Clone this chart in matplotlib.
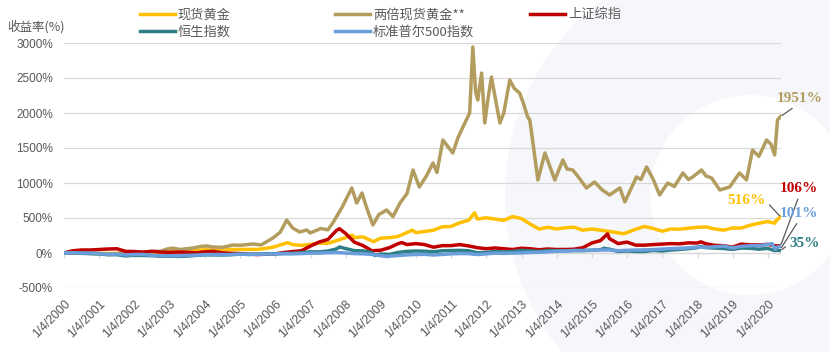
import matplotlib
matplotlib.use("Agg")
import matplotlib.pyplot as plt
from matplotlib.patches import Wedge

plt.rcParams['font.family'] = ['Noto Sans CJK SC', 'DejaVu Sans']

# --- data (decimal years, return in %) ---
gold_t = [2000.0, 2000.25, 2000.5, 2000.75, 2001.0, 2001.25, 2001.5, 2001.75,
          2002.0, 2002.25, 2002.5, 2002.75, 2003.0, 2003.25, 2003.5, 2003.75,
          2004.0, 2004.25, 2004.5, 2004.75, 2005.0, 2005.25, 2005.5, 2005.75,
          2006.0, 2006.35, 2006.5, 2006.75, 2007.0, 2007.25, 2007.5, 2007.75,
          2008.0, 2008.2, 2008.25, 2008.5, 2008.8, 2009.0, 2009.25, 2009.5,
          2009.9, 2010.0, 2010.25, 2010.5, 2010.75, 2011.0, 2011.25, 2011.5,
          2011.67, 2011.75, 2012.0, 2012.25, 2012.5, 2012.75, 2013.0, 2013.25,
          2013.5, 2013.75, 2014.0, 2014.25, 2014.5, 2014.75, 2015.0, 2015.25,
          2015.5, 2015.9, 2016.0, 2016.25, 2016.5, 2016.75, 2017.0, 2017.25,
          2017.5, 2017.75, 2018.0, 2018.25, 2018.5, 2018.75, 2019.0, 2019.25,
          2019.5, 2019.75, 2020.0, 2020.2, 2020.25, 2020.37]
gold_v = [0, -1, 3, -4, -5, -8, -4, 1,
          -1, 6, 12, 13, 24, 17, 24, 35,
          47, 42, 40, 49, 51, 52, 51, 67,
          91, 148, 120, 109, 123, 141, 138, 177,
          219, 255, 219, 230, 162, 212, 219, 237,
          326, 290, 308, 325, 375, 379, 432, 467,
          574, 485, 503, 485, 467, 520, 492, 414,
          343, 368, 343, 361, 368, 326, 343, 326,
          308, 276, 290, 340, 379, 350, 311, 343,
          340, 354, 368, 372, 343, 326, 357, 357,
          396, 425, 450, 425, 467, 516]

gold2x_t = [2000.0, 2000.25, 2000.5, 2000.75, 2001.0, 2001.25, 2001.5, 2001.75,
            2002.0, 2002.25, 2002.5, 2002.75, 2002.93, 2003.1, 2003.3, 2003.67,
            2003.9, 2004.05, 2004.23, 2004.5, 2004.8, 2005.0, 2005.37, 2005.6,
            2005.94, 2006.15, 2006.33, 2006.5, 2006.7, 2006.9, 2007.0, 2007.3,
            2007.5, 2007.64, 2007.9, 2008.18, 2008.32, 2008.47, 2008.6, 2008.78,
            2008.95, 2009.17, 2009.35, 2009.55, 2009.75, 2009.92, 2010.1, 2010.3,
            2010.49, 2010.6, 2010.77, 2011.05, 2011.2, 2011.34, 2011.53, 2011.62,
            2011.7, 2011.76, 2011.87, 2011.96, 2012.05, 2012.15, 2012.3, 2012.39,
            2012.5, 2012.67, 2012.8, 2012.95, 2013.05, 2013.18, 2013.24, 2013.33,
            2013.47, 2013.67, 2013.8, 2013.95, 2014.18, 2014.3, 2014.46, 2014.6,
            2014.85, 2015.08, 2015.3, 2015.51, 2015.8, 2015.94, 2016.1, 2016.27,
            2016.4, 2016.56, 2016.75, 2016.93, 2017.16, 2017.35, 2017.59, 2017.75,
            2017.87, 2018.12, 2018.25, 2018.41, 2018.64, 2018.92, 2019.2, 2019.4,
            2019.57, 2019.75, 2019.97, 2020.1, 2020.2, 2020.28, 2020.37]
gold2x_v = [0, -5, 5, -8, -12, -18, -10, 0,
            -3, 10, 22, 25, 57, 70, 50, 71,
            95, 100, 86, 80, 114, 110, 129, 115,
            214, 300, 471, 357, 300, 329, 286, 350,
            330, 429, 650, 929, 714, 857, 650, 400,
            550, 614, 520, 714, 850, 1186, 943, 1100,
            1286, 1150, 1614, 1429, 1650, 1800, 2000, 2943,
            2300, 2186, 2571, 1857, 2200, 2514, 2100, 1857,
            2000, 2471, 2350, 2286, 2150, 1943, 1900, 1571,
            1043, 1429, 1250, 1043, 1329, 1200, 1186, 1100,
            929, 1014, 900, 829, 929, 729, 900, 1086,
            1050, 1229, 1050, 829, 1000, 950, 1143, 1050,
            1086, 1186, 1100, 1071, 900, 943, 1143, 1043,
            1471, 1380, 1614, 1550, 1400, 1900, 1951]

sh_t = [2000.0, 2000.25, 2000.5, 2000.75, 2001.0, 2001.25, 2001.5, 2001.75,
        2002.0, 2002.25, 2002.5, 2002.75, 2003.0, 2003.25, 2003.5, 2003.75,
        2004.0, 2004.25, 2004.5, 2004.75, 2005.0, 2005.25, 2005.5, 2005.75,
        2006.0, 2006.25, 2006.5, 2006.75, 2007.0, 2007.25, 2007.5, 2007.75,
        2007.83, 2008.0, 2008.25, 2008.5, 2008.75, 2009.0, 2009.25, 2009.5,
        2009.6, 2009.75, 2010.0, 2010.25, 2010.5, 2010.75, 2011.0, 2011.25,
        2011.5, 2011.75, 2012.0, 2012.25, 2012.5, 2012.75, 2013.0, 2013.25,
        2013.5, 2013.75, 2014.0, 2014.25, 2014.5, 2014.75, 2015.0, 2015.25,
        2015.45, 2015.5, 2015.75, 2016.0, 2016.25, 2016.5, 2016.75, 2017.0,
        2017.25, 2017.5, 2017.75, 2018.0, 2018.1, 2018.25, 2018.5, 2018.75,
        2019.0, 2019.25, 2019.5, 2019.75, 2020.0, 2020.25, 2020.37]
sh_v = [2, 32, 43, 43, 50, 57, 61, 24,
        21, 13, 24, 13, 10, 13, 10, 2,
        17, 24, 2, -5, -8, -16, -23, -16,
        -12, 6, 21, 32, 98, 156, 193, 325,
        347, 281, 156, 105, 32, 39, 76, 134,
        149, 120, 134, 120, 83, 105, 105, 120,
        101, 76, 61, 72, 61, 50, 68, 61,
        46, 57, 50, 50, 54, 76, 142, 178,
        273, 207, 134, 156, 112, 112, 120, 127,
        134, 131, 145, 142, 160, 131, 109, 105,
        83, 127, 116, 116, 123, 101, 106]

hsi_t = [2000.0, 2000.25, 2000.5, 2000.75, 2001.0, 2001.25, 2001.5, 2001.75,
         2002.0, 2002.25, 2002.5, 2002.75, 2003.0, 2003.25, 2003.5, 2003.75,
         2004.0, 2004.25, 2004.5, 2004.75, 2005.0, 2005.25, 2005.5, 2005.75,
         2006.0, 2006.25, 2006.5, 2006.75, 2007.0, 2007.25, 2007.5, 2007.75,
         2007.83, 2008.0, 2008.25, 2008.5, 2008.75, 2008.83, 2009.0, 2009.25,
         2009.5, 2009.75, 2010.0, 2010.25, 2010.5, 2010.75, 2011.0, 2011.25,
         2011.5, 2011.75, 2012.0, 2012.25, 2012.5, 2012.75, 2013.0, 2013.25,
         2013.5, 2013.75, 2014.0, 2014.25, 2014.5, 2014.75, 2015.0, 2015.25,
         2015.35, 2015.5, 2015.75, 2016.0, 2016.25, 2016.5, 2016.75, 2017.0,
         2017.25, 2017.5, 2017.75, 2018.0, 2018.08, 2018.25, 2018.5, 2018.75,
         2019.0, 2019.25, 2019.5, 2019.75, 2020.0, 2020.2, 2020.25, 2020.37]
hsi_v = [0, 2, -5, -8, -11, -25, -24, -41,
         -33, -35, -38, -47, -45, -49, -44, -34,
         -26, -27, -28, -23, -16, -21, -16, -9,
         -12, -7, -4, 3, 17, 16, 28, 59,
         86, 64, 34, 30, 6, -35, -15, -20,
         8, 23, 29, 25, 18, 32, 35, 38,
         32, 4, 8, 21, 14, 22, 37, 31,
         22, 35, 34, 31, 36, 35, 39, 47,
         67, 54, 22, 29, 22, 22, 37, 29,
         42, 51, 62, 76, 94, 77, 70, 64,
         52, 71, 68, 54, 66, 34, 39, 35]

spx_t = [2000.0, 2000.25, 2000.5, 2000.75, 2001.0, 2001.25, 2001.5, 2001.75,
         2002.0, 2002.25, 2002.5, 2002.75, 2003.0, 2003.25, 2003.5, 2003.75,
         2004.0, 2004.25, 2004.5, 2004.75, 2005.0, 2005.25, 2005.5, 2005.75,
         2006.0, 2006.25, 2006.5, 2006.75, 2007.0, 2007.25, 2007.5, 2007.75,
         2008.0, 2008.25, 2008.5, 2008.75, 2009.0, 2009.2, 2009.25, 2009.5,
         2009.75, 2010.0, 2010.25, 2010.5, 2010.75, 2011.0, 2011.25, 2011.5,
         2011.75, 2012.0, 2012.25, 2012.5, 2012.75, 2013.0, 2013.25, 2013.5,
         2013.75, 2014.0, 2014.25, 2014.5, 2014.75, 2015.0, 2015.25, 2015.5,
         2015.75, 2016.0, 2016.25, 2016.5, 2016.75, 2017.0, 2017.25, 2017.5,
         2017.75, 2018.0, 2018.25, 2018.5, 2018.75, 2019.0, 2019.25, 2019.5,
         2019.75, 2020.0, 2020.13, 2020.22, 2020.25, 2020.37]
spx_v = [0, 3, 0, -1, -9, -20, -16, -28,
         -21, -21, -32, -43, -39, -41, -33, -31,
         -23, -22, -22, -23, -17, -19, -18, -15,
         -14, -10, -12, -8, -2, -2, 3, 6,
         0, -9, -12, -20, -38, -52, -45, -37,
         -27, -22, -19, -29, -21, -12, -8, -9,
         -22, -12, -3, -6, -1, 1, 8, 11,
         16, 26, 29, 35, 36, 41, 43, 43,
         32, 38, 42, 45, 48, 56, 63, 67,
         74, 86, 82, 88, 100, 72, 95, 103,
         106, 123, 133, 54, 78, 101]

series_names = ['现货黄金', '两倍现货黄金**', '上证综指', '恒生指数', '标准普尔500指数']
series_colors = ['#FFC000', '#B29D5F', '#C00000', '#2F7F86', '#6A9FDC']
end_labels = ['516%', '1951%', '106%', '35%', '101%']

years = list(range(2000, 2021))
tick_labels = ['1/4/%d' % y for y in years]
y_ticks = [-500, 0, 500, 1000, 1500, 2000, 2500, 3000]

fig = plt.figure(figsize=(8.3, 3.52), dpi=100)

# faint watermark ring in the background
bg = fig.add_axes([0, 0, 1, 1], zorder=-5)
bg.set_xlim(0, 830)
bg.set_ylim(352, 0)
bg.axis('off')
bg.add_patch(Wedge((750, 195), 245, 0, 360, width=145, color='#f5f7fa', lw=0))

ax = fig.add_axes([64 / 830, 1 - 288 / 352, 717 / 830, 245 / 352])
ax.patch.set_alpha(0)

grey = '#595959'
all_t = [gold_t, gold2x_t, sh_t, hsi_t, spx_t]
all_v = [gold_v, gold2x_v, sh_v, hsi_v, spx_v]
lines = []
for t, v, c, n in zip(all_t, all_v, series_colors, series_names):
    ln, = ax.plot(t, v, color=c, lw=2.5, label=n, solid_joinstyle='round')
    lines.append(ln)

ax.set_xlim(2000.0, 2020.38)
ax.set_ylim(-500, 3000)
ax.set_yticks(y_ticks)
ax.set_yticklabels(['%d%%' % v for v in y_ticks], family='Liberation Sans')
ax.grid(axis='y', color='#d9d9d9', lw=0.9)
ax.set_axisbelow(True)
for s in ax.spines.values():
    s.set_visible(False)
ax.tick_params(axis='y', length=0, pad=8, labelsize=8.5, labelcolor=grey)

tick_pos = [y + 3 / 366 for y in years]
ax.set_xticks(tick_pos)
ax.set_xticklabels(tick_labels, rotation=45, ha='right', va='top',
                   rotation_mode='anchor', family='Liberation Sans')
ax.tick_params(axis='x', length=0, pad=7, labelsize=8.8, labelcolor=grey)
# category axis crosses at 0%
ax.axhline(0, color='#d9d9d9', lw=0.9, zorder=0.5)
ax.vlines(tick_pos, -70, 0, color='#d9d9d9', lw=0.9, zorder=0.5)

fig.text(7 / 830, 1 - 27 / 352, '收益率(%)', fontsize=9, color=grey, va='center')

# legend: three columns laid out as in the original
cols = [[0, 3], [1, 4], [2]]
col_x = [135, 330, 525]
for cx, idx in zip(col_x, cols):
    fig.legend([lines[i] for i in idx], [series_names[i] for i in idx],
               loc='upper left', bbox_to_anchor=(cx / 830, 1 - 3 / 352),
               frameon=False, fontsize=9.5, handlelength=2.6, handletextpad=0.25,
               labelspacing=0.35, labelcolor=grey, borderaxespad=0)

# end-value labels with leader lines
lab_font = dict(family='Liberation Serif', fontweight='bold', fontsize=11)
# (text x, text y, relpos, target value)
lab_pos = [(2019.4, 745, (1.0, 0.5), 516),
           (2020.91, 2210, (0.45, 0.0), 1951),
           (2020.9, 920, (0.5, 0.0), 106),
           (2021.05, 140, (0.3, 1.0), 35),
           (2020.9, 570, (0.5, 0.0), 60)]
for i, (tx, ty, rp, tv) in enumerate(lab_pos):
    ax.annotate(end_labels[i], xy=(all_t[i][-1], tv), xytext=(tx, ty),
                color=series_colors[i], ha='center', va='center',
                annotation_clip=False, **lab_font,
                arrowprops=dict(arrowstyle='-', color=grey, lw=0.9,
                                relpos=rp, shrinkA=1, shrinkB=1))

fig.savefig('out.png', dpi=100)
